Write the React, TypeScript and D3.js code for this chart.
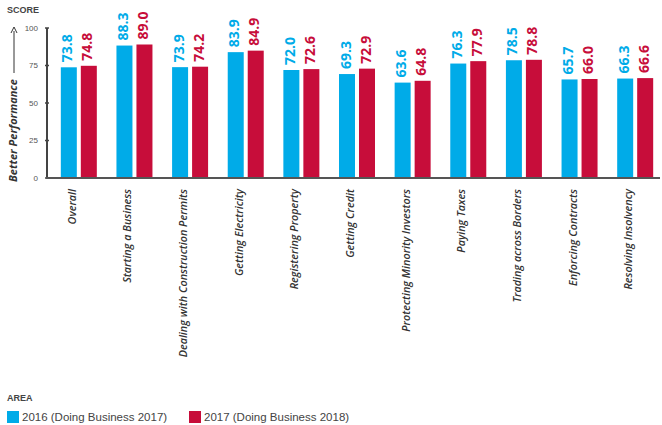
import * as d3 from 'd3'

const categories = [
  'Overall',
  'Starting a Business',
  'Dealing with Construction Permits',
  'Getting Electricity',
  'Registering Property',
  'Getting Credit',
  'Protecting Minority Investors',
  'Paying Taxes',
  'Trading across Borders',
  'Enforcing Contracts',
  'Resolving Insolvency',
]
const seriesNames = ['2016 (Doing Business 2017)', '2017 (Doing Business 2018)']
const values2016 = [73.8, 88.3, 73.9, 83.9, 72.0, 69.3, 63.6, 76.3, 78.5, 65.7, 66.3]
const values2017 = [74.8, 89.0, 74.2, 84.9, 72.6, 72.9, 64.8, 77.9, 78.8, 66.0, 66.6]
const yTicks = [0, 25, 50, 75, 100]

const COLORS = ['#00abe8', '#c70d3a']
const W = 662
const H = 425
const AXIS_X = 47
const TOP = 28
const BOTTOM = 178

export default function App() {
  const y = d3.scaleLinear().domain([0, 100]).range([BOTTOM, TOP])
  const x0 = d3.scaleBand<string>().domain(categories).range([51, 663]).padding(0)
  const groupW = 36
  const x1 = d3.scaleBand<string>().domain(['a', 'b']).range([0, groupW]).paddingInner(0.2)
  const series = [values2016, values2017]

  return (
    <svg width={W} height={H} style={{position: 'absolute', left: 0, top: 0}}>
      <rect width={W} height={H} fill="#fff" />
      <text x={7} y={13} fontFamily="Liberation Sans, Arial" fontWeight={700} fontSize={9} fill="#444">
        SCORE
      </text>
      {/* y title with arrow */}
      <text
        transform="translate(17,182) rotate(-90)"
        fontFamily="Open Sans"
        fontStyle="italic"
        fontWeight={700}
        fontSize={11}
        fill="#333">
        Better Performance
      </text>
      <line x1={14} x2={14} y1={73} y2={31} stroke="#333" strokeWidth={1} />
      <path d="M11,33 L14,27 L17,33" fill="none" stroke="#333" strokeWidth={1} />

      {yTicks.map(t => (
        <g key={t}>
          <text x={38} y={y(t)} dy="0.35em" textAnchor="end" fontFamily="Liberation Sans, Arial" fontSize={8} fill="#555">
            {t}
          </text>
          <line x1={AXIS_X - 2} x2={AXIS_X + 2} y1={y(t)} y2={y(t)} stroke="#444" strokeWidth={1.5} />
        </g>
      ))}

      {categories.map((c, i) => {
        const gx = (x0(c) ?? 0) + (x0.bandwidth() - groupW) / 2
        return (
          <g key={c}>
            {series.map((vals, s) => {
              const bx = gx + (x1(s === 0 ? 'a' : 'b') ?? 0)
              const bw = x1.bandwidth()
              const v = vals[i]
              return (
                <g key={s}>
                  <rect x={bx} y={y(v)} width={bw} height={BOTTOM - y(v)} fill={COLORS[s]} />
                  <text
                    transform={`translate(${bx + bw / 2 - 1.5},${y(v) - 5}) rotate(-90)`}
                    dy="0.36em"
                    fontFamily="Open Sans"
                    fontWeight={700}
                    fontSize={14}
                    fill={COLORS[s]}>
                    {v.toFixed(1)}
                  </text>
                </g>
              )
            })}
            <text
              transform={`translate(${gx + groupW / 2 - 3},189) rotate(-90)`}
              textAnchor="end"
              fontFamily="Open Sans"
              fontStyle="italic"
              fontWeight={600}
              fontSize={10.8}
              fill="#333">
              {c}
            </text>
          </g>
        )
      })}

      <line x1={AXIS_X} x2={AXIS_X} y1={TOP} y2={BOTTOM} stroke="#444" strokeWidth={2} />
      <line x1={AXIS_X - 1} x2={660} y1={BOTTOM} y2={BOTTOM} stroke="#555" strokeWidth={2} />

      <text x={7} y={401} fontFamily="Liberation Sans, Arial" fontWeight={700} fontSize={9} fill="#444">
        AREA
      </text>
      {seriesNames.map((n, s) => {
        const lx = s === 0 ? 7 : 189
        return (
          <g key={n}>
            <rect x={lx} y={411} width={12} height={12} fill={COLORS[s]} />
            <text x={lx + 15} y={421} fontFamily="Liberation Sans, Arial" fontSize={11.5} fill="#444">
              {n}
            </text>
          </g>
        )
      })}
    </svg>
  )
}
